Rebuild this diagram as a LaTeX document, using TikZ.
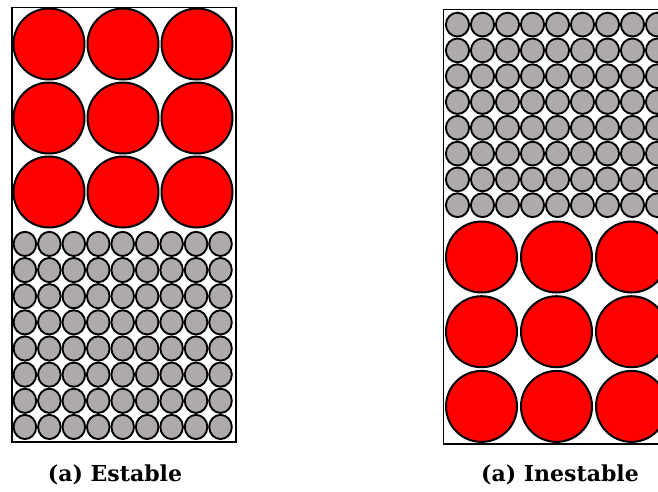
\documentclass[tikz,border=0pt]{standalone}
\usepackage{fontspec}
\setmainfont{DejaVu Serif}
\definecolor{ballred}{HTML}{FF0000}
\definecolor{ballgray}{HTML}{AEAAAA}
\begin{document}
\begin{tikzpicture}[x=1pt,y=-1pt,
  boxframe/.style={draw=black,line width=1.8pt},
  bigball/.style={draw=black,line width=2pt,fill=ballred},
  smallball/.style={draw=black,line width=1.9pt,fill=ballgray},
  caption/.style={font=\bfseries\fontsize{22}{26}\selectfont,anchor=base,inner sep=0pt}]
\path[use as bounding box,clip] (0,0) rectangle (658,491);
\fill[white] (0,0) rectangle (658,491);
% ---------- left: stable ----------
\foreach \i in {0,1,2}{
  \foreach \j in {0,1,2}{
    \path[bigball] (49+74*\i,44+74*\j) circle (35.5);
  }
}
\foreach \i in {0,...,8}{
  \foreach \j in {0,...,7}{
    \path[smallball] (24.9+24.45*\i,243.9+26.15*\j) ellipse [x radius=11.3,y radius=12.1];
  }
}
\draw[boxframe] (12,7.5) rectangle (236,442);
% ---------- right: unstable ----------
\foreach \i in {0,...,8}{
  \foreach \j in {0,...,7}{
    \path[smallball] (457.5+25*\i,24.6+25.8*\j) ellipse [x radius=11.6,y radius=11.9];
  }
}
\foreach \i in {0,1,2}{
  \foreach \j in {0,1,2}{
    \path[bigball] (481.5+75*\i,257+74.7*\j) circle (35.5);
  }
}
\draw[boxframe] (443.5,9.5) rectangle (668,444);
% ---------- captions ----------
\node[caption] (capL) at (115,481.7) {(a) Estable};
\node[caption] (capR) at (560,481.7) {(a) Inestable};
\end{tikzpicture}
\end{document}
